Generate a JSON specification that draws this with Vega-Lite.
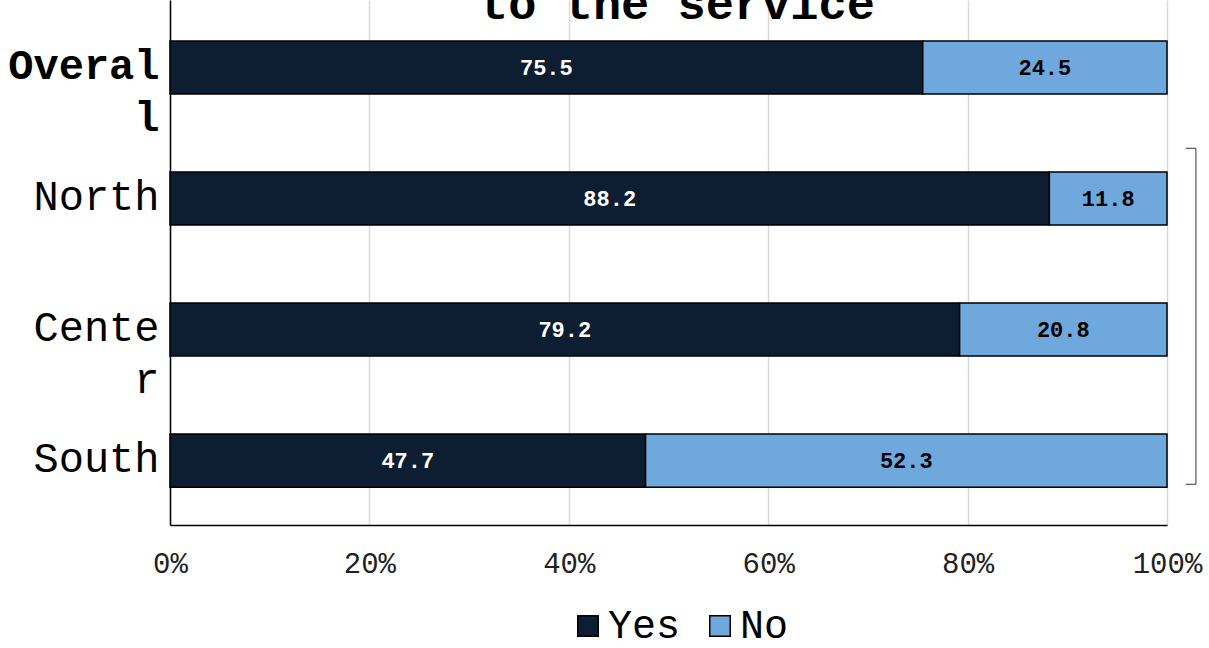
{
  "$schema": "https://vega.github.io/schema/vega-lite/v6.json",
  "autosize": {"type": "none"},
  "width": 997,
  "height": 525,
  "padding": {"top": 0, "left": 170, "right": 42, "bottom": 123},
  "background": "white",
  "title": {
    "text": "to the service",
    "font": "Liberation Mono",
    "fontSize": 47,
    "fontWeight": "bold",
    "color": "black",
    "anchor": "middle",
    "baseline": "alphabetic",
    "offset": -66,
    "dx": 9
  },
  "config": {
    "view": {"stroke": null},
    "font": "Liberation Mono"
  },
  "resolve": {"scale": {"y": "independent"}},
  "layer": [
    {
      "data": {
        "values": [
          {"region": "Overall", "answer": "Yes", "value": 75.5},
          {"region": "Overall", "answer": "No", "value": 24.5},
          {"region": "North", "answer": "Yes", "value": 88.2},
          {"region": "North", "answer": "No", "value": 11.8},
          {"region": "Center", "answer": "Yes", "value": 79.2},
          {"region": "Center", "answer": "No", "value": 20.8},
          {"region": "South", "answer": "Yes", "value": 47.7},
          {"region": "South", "answer": "No", "value": 52.3}
        ]
      },
      "transform": [
        {"calculate": "datum.answer === 'Yes' ? 0 : 1", "as": "ord"},
        {"stack": "value", "groupby": ["region"], "sort": [{"field": "ord", "order": "ascending"}], "as": ["x0", "x1"]},
        {"calculate": "(datum.x0 + datum.x1) / 2", "as": "xm"}
      ],
      "encoding": {
        "y": {
          "field": "region",
          "type": "nominal",
          "sort": ["Overall", "North", "Center", "South"],
          "scale": {"paddingInner": 0.595, "paddingOuter": 0.301, "align": 0.52},
          "axis": {
            "title": null,
            "domain": true,
            "domainColor": "black",
            "domainWidth": 1.5,
            "ticks": false,
            "grid": false,
            "labelFont": "Liberation Mono",
            "labelFontSize": 42,
            "labelColor": "black",
            "labelPadding": 11,
            "labelBaseline": "alphabetic",
            "labelOffset": 11,
            "labelLineHeight": 52,
            "labelFontWeight": {"condition": {"test": "datum.value === 'Overall'", "value": "bold"}, "value": "normal"},
            "labelExpr": "datum.value === 'Overall' ? ['Overal', 'l'] : datum.value === 'Center' ? ['Cente', 'r'] : datum.value"
          }
        }
      },
      "layer": [
        {
          "mark": {"type": "bar", "stroke": "black", "strokeWidth": 1.5},
          "encoding": {
            "x": {
              "field": "x0",
              "type": "quantitative",
              "scale": {"domain": [0, 100], "nice": false},
              "axis": {
                "title": null,
                "values": [0, 20, 40, 60, 80, 100],
                "labelExpr": "datum.value + '%'",
                "grid": true,
                "gridColor": "#d9d9d9",
                "gridWidth": 1.5,
                "domain": true,
                "domainColor": "black",
                "domainWidth": 1.5,
                "ticks": false,
                "labelFont": "Liberation Mono",
                "labelFontSize": 29,
                "labelColor": "#222222",
                "labelPadding": 24,
                "labelFlush": false
              }
            },
            "x2": {"field": "x1"},
            "color": {
              "field": "answer",
              "type": "nominal",
              "scale": {"domain": ["Yes", "No"], "range": ["#0d1e32", "#6fa8dc"]},
              "legend": {
                "title": null,
                "orient": "none",
                "legendX": 398,
                "legendY": 606,
                "direction": "horizontal",
                "symbolType": "square",
                "symbolSize": 420,
                "symbolStrokeColor": "black",
                "symbolStrokeWidth": 1.5,
                "symbolOpacity": 1,
                "labelFont": "Liberation Mono",
                "labelFontSize": 40,
                "labelColor": "black",
                "labelOffset": 0,
                "columnPadding": 19
              }
            }
          }
        },
        {
          "mark": {"type": "text", "fontWeight": "bold", "fontSize": 22, "font": "Liberation Mono", "baseline": "middle", "align": "center"},
          "encoding": {
            "x": {"field": "xm", "type": "quantitative", "scale": {"domain": [0, 100], "nice": false}},
            "text": {"field": "value", "type": "quantitative", "format": ".1f"},
            "color": {"condition": {"test": "datum.answer === 'Yes'", "value": "white"}, "value": "black"}
          }
        }
      ]
    },
    {
      "data": {
        "values": [
          {"part": "spine", "xa": 102.9, "xb": 102.9, "ya": 1.13, "yb": 3.69},
          {"part": "top", "xa": 101.9, "xb": 102.9, "ya": 1.13, "yb": 1.13},
          {"part": "bottom", "xa": 101.9, "xb": 102.9, "ya": 3.69, "yb": 3.69}
        ]
      },
      "mark": {"type": "rule", "color": "#555555", "strokeWidth": 1.2, "clip": false},
      "encoding": {
        "x": {"field": "xa", "type": "quantitative", "scale": {"domain": [0, 100], "nice": false}},
        "x2": {"field": "xb"},
        "y": {"field": "ya", "type": "quantitative", "scale": {"domain": [0, 4], "nice": false, "zero": false, "reverse": true}, "axis": null},
        "y2": {"field": "yb"}
      }
    }
  ]
}
